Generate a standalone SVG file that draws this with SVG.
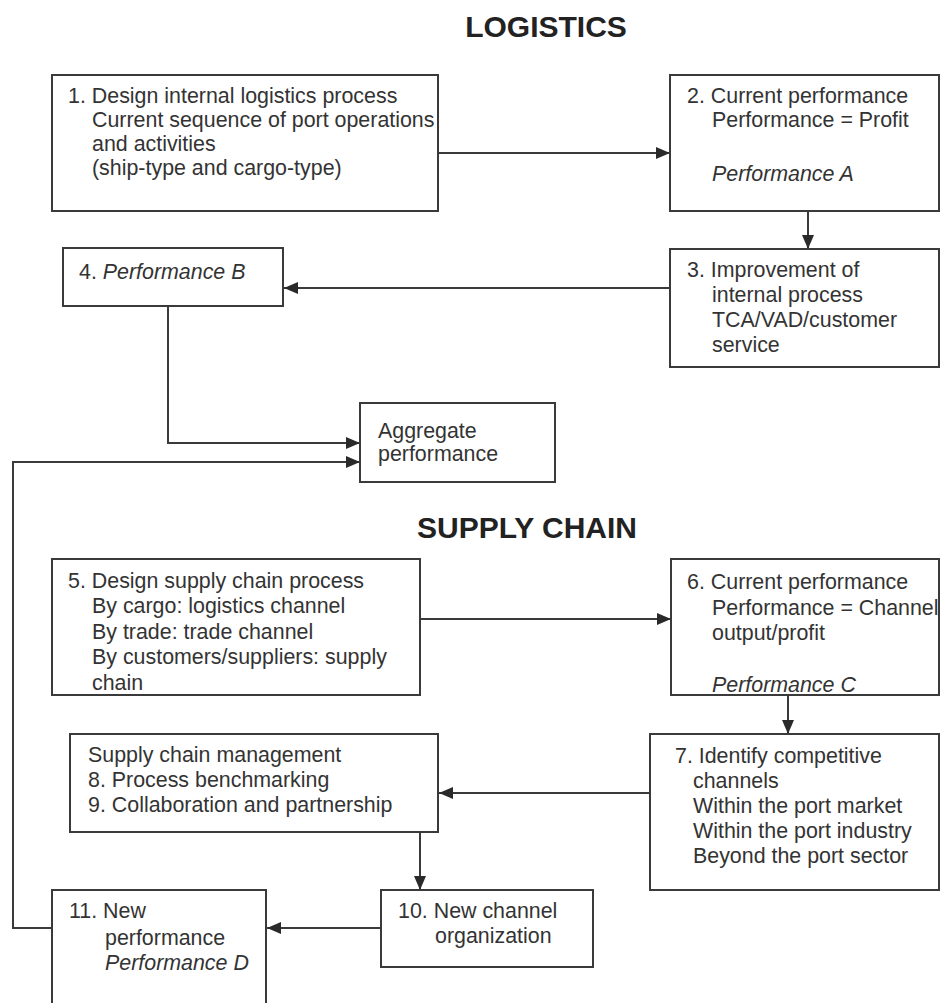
<svg xmlns="http://www.w3.org/2000/svg" width="941" height="1003" viewBox="0 0 941 1003">
  <style>
    .box { fill: #ffffff; stroke: #3a3a3a; stroke-width: 2; }
    .txt { font-family: "Liberation Sans", Arial, sans-serif; font-size: 21.4px; fill: #333333; }
    .it { font-style: italic; }
    .title { font-family: "Liberation Sans", Arial, sans-serif; font-size: 30px; font-weight: bold; fill: #222222; text-anchor: middle; }
    .wire { fill: none; stroke: #3a3a3a; stroke-width: 2; }
  </style>
  <defs>
    <marker id="arrow" viewBox="0 0 14 12" refX="14" refY="6" markerWidth="14" markerHeight="12" markerUnits="userSpaceOnUse" orient="auto">
      <path d="M0,0 L14,6 L0,12 Z" fill="#2a2a2a"/>
    </marker>
  </defs>
  <rect width="941" height="1003" fill="#ffffff"/>

  <!-- section headings -->
  <text class="title" x="546" y="37">LOGISTICS</text>
  <text class="title" x="527" y="538">SUPPLY CHAIN</text>

  <!-- connectors -->
  <g id="connectors">
    <path class="wire" d="M438,153 H670" marker-end="url(#arrow)"/>
    <path class="wire" d="M808,211 V249" marker-end="url(#arrow)"/>
    <path class="wire" d="M670,288 H284" marker-end="url(#arrow)"/>
    <path class="wire" d="M168,306 V443 H360" marker-end="url(#arrow)"/>
    <path class="wire" d="M52,928 H13 V462 H360" marker-end="url(#arrow)"/>
    <path class="wire" d="M420,619 H671" marker-end="url(#arrow)"/>
    <path class="wire" d="M788,695 V734" marker-end="url(#arrow)"/>
    <path class="wire" d="M650,793 H439" marker-end="url(#arrow)"/>
    <path class="wire" d="M420,832 V890" marker-end="url(#arrow)"/>
    <path class="wire" d="M381,928 H267" marker-end="url(#arrow)"/>
  </g>

  <g id="node1">
    <rect class="box" x="52" y="75" width="386" height="136"/>
    <text class="txt" x="68" y="103">1. Design internal logistics process</text>
    <text class="txt" x="92" y="127">Current sequence of port operations</text>
    <text class="txt" x="92" y="151">and activities</text>
    <text class="txt" x="92" y="175">(ship-type and cargo-type)</text>
  </g>

  <g id="node2">
    <rect class="box" x="670" y="75" width="269" height="136"/>
    <text class="txt" x="687" y="103">2. Current performance</text>
    <text class="txt" x="712" y="127">Performance = Profit</text>
    <text class="txt it" x="712" y="181">Performance A</text>
  </g>

  <g id="node3">
    <rect class="box" x="670" y="249" width="269" height="118"/>
    <text class="txt" x="687" y="277">3. Improvement of</text>
    <text class="txt" x="712" y="302">internal process</text>
    <text class="txt" x="712" y="327">TCA/VAD/customer</text>
    <text class="txt" x="712" y="352">service</text>
  </g>

  <g id="node4">
    <rect class="box" x="63" y="248" width="220" height="58"/>
    <text class="txt" x="79" y="279">4. <tspan class="it">Performance B</tspan></text>
  </g>

  <g id="aggregate">
    <rect class="box" x="360" y="403" width="195" height="79"/>
    <text class="txt" x="378" y="438">Aggregate</text>
    <text class="txt" x="378" y="461">performance</text>
  </g>

  <g id="node5">
    <rect class="box" x="52" y="559" width="368" height="136"/>
    <text class="txt" x="68" y="588">5. Design supply chain process</text>
    <text class="txt" x="92" y="613">By cargo: logistics channel</text>
    <text class="txt" x="92" y="639">By trade: trade channel</text>
    <text class="txt" x="92" y="664">By customers/suppliers: supply</text>
    <text class="txt" x="92" y="690">chain</text>
  </g>

  <g id="node6">
    <rect class="box" x="671" y="559" width="268" height="136"/>
    <text class="txt" x="687" y="589">6. Current performance</text>
    <text class="txt" x="712" y="615">Performance = Channel</text>
    <text class="txt" x="712" y="640">output/profit</text>
    <text class="txt it" x="712" y="692">Performance C</text>
  </g>

  <g id="node7">
    <rect class="box" x="650" y="734" width="289" height="156"/>
    <text class="txt" x="675" y="763">7. Identify competitive</text>
    <text class="txt" x="693" y="788">channels</text>
    <text class="txt" x="693" y="813">Within the port market</text>
    <text class="txt" x="693" y="838">Within the port industry</text>
    <text class="txt" x="693" y="863">Beyond the port sector</text>
  </g>

  <g id="node8-9">
    <rect class="box" x="70" y="734" width="368" height="98"/>
    <text class="txt" x="88" y="762">Supply chain management</text>
    <text class="txt" x="88" y="787">8. Process benchmarking</text>
    <text class="txt" x="88" y="812">9. Collaboration and partnership</text>
  </g>

  <g id="node10">
    <rect class="box" x="381" y="890" width="212" height="77"/>
    <text class="txt" x="398" y="918">10. New channel</text>
    <text class="txt" x="435" y="943">organization</text>
  </g>

  <g id="node11">
    <rect class="box" x="52" y="890" width="214" height="130"/>
    <text class="txt" x="69" y="918">11. New</text>
    <text class="txt" x="105" y="945">performance</text>
    <text class="txt it" x="105" y="970">Performance D</text>
  </g>
</svg>
